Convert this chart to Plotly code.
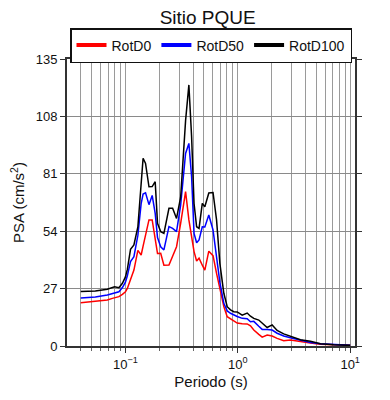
import plotly.graph_objects as go

periods = [0.04, 0.054, 0.069, 0.0765, 0.080, 0.0875, 0.094, 0.1, 0.104, 0.111, 0.119, 0.129,
           0.138, 0.1436, 0.151, 0.162, 0.173, 0.184, 0.193, 0.206, 0.220, 0.244, 0.263, 0.285,
           0.310, 0.343, 0.367, 0.388, 0.408, 0.430, 0.452, 0.483, 0.509, 0.552, 0.602, 0.647,
           0.692, 0.751, 0.805, 0.861, 0.921, 0.988, 1.094, 1.212, 1.297, 1.388, 1.537, 1.648,
           1.825, 2.021, 2.239, 2.562, 2.94, 3.61, 4.43, 5.43, 7.13, 9.38, 10.0]

rotd100 = [25.6, 25.9, 26.7, 27.3, 27.9, 27.4, 29.5, 32.5, 36.0, 45.5, 47.5, 56.0,
           78.0, 88.3, 85.9, 74.9, 75.0, 77.3, 57.7, 53.8, 53.0, 64.8, 64.8, 60.0,
           70.0, 106.0, 122.8, 98.5, 67.0, 56.1, 55.3, 67.1, 65.5, 72.0, 72.2, 59.3,
           39.0, 24.8, 18.5, 17.0, 16.1, 16.0, 14.5, 15.5, 14.0, 13.0, 12.2, 10.8,
           8.7, 9.9, 7.3, 5.7, 4.5, 2.9, 2.2, 1.1, 0.6, 0.3, 0.3]

rotd50 = [22.6, 23.0, 24.0, 24.5, 24.8, 25.5, 27.5, 30.0, 33.0, 39.7, 42.0, 52.0,
          67.0, 71.5, 72.1, 66.5, 70.8, 62.4, 51.0, 46.7, 45.2, 56.2, 55.3, 53.8,
          66.3, 90.6, 95.3, 79.6, 53.0, 48.6, 49.9, 56.1, 56.0, 61.6, 54.6, 42.0,
          30.0, 20.1, 16.5, 15.4, 14.5, 13.9, 13.0, 12.8, 11.4, 11.6, 9.3, 7.8,
          7.8, 7.5, 6.0, 4.7, 3.9, 2.7, 1.7, 1.1, 0.6, 0.3, 0.3]

rotd0 = [20.4, 20.9, 21.6, 22.4, 22.6, 23.2, 24.3, 25.5, 27.1, 31.5, 35.7, 45.0,
         42.8, 47.0, 52.2, 59.3, 59.3, 51.4, 43.5, 43.6, 38.0, 38.1, 42.0, 46.7,
         57.7, 72.6, 59.3, 51.0, 44.4, 40.0, 41.3, 38.0, 35.7, 44.6, 42.5, 34.2,
         26.5, 18.5, 13.8, 12.8, 11.5, 10.8, 10.5, 10.4, 9.5, 7.5, 5.5, 4.2,
         5.2, 4.7, 3.6, 2.5, 2.8, 2.0, 1.4, 0.8, 0.5, 0.3, 0.3]

series_names = ["RotD0", "RotD50", "RotD100"]
series_colors = ["#ff0000", "#0000ff", "#000000"]
series_values = [rotd0, rotd50, rotd100]

y_ticks = [0, 27, 54, 81, 108, 135]
x_ticks = [0.1, 1, 10]
x_ticklabels = ["10<sup>\u22121</sup>", "10<sup>0</sup>", "10<sup>1</sup>"]
x_minor = [0.03, 0.04, 0.05, 0.06, 0.07, 0.08, 0.09,
           0.2, 0.3, 0.4, 0.5, 0.6, 0.7, 0.8, 0.9,
           2, 3, 4, 5, 6, 7, 8, 9]

fig = go.Figure()
for name, color, vals in zip(series_names, series_colors, series_values):
    fig.add_trace(go.Scatter(x=periods, y=vals, mode="lines", name=name,
                             line=dict(color=color, width=1.5), showlegend=False))
for name, color in zip(series_names, series_colors):
    fig.add_trace(go.Scatter(x=[None], y=[None], mode="lines", name=name,
                             line=dict(color=color, width=4), showlegend=True))

font_family = "Liberation Sans, Arial, sans-serif"
fig.update_layout(
    width=390, height=400,
    margin=dict(l=59, r=43, t=51, b=62, autoexpand=False),
    paper_bgcolor="white", plot_bgcolor="white",
    font=dict(family=font_family, color="#111"),
    title=dict(text="Sitio PQUE", x=0.512, xanchor="center", y=0.977, yanchor="middle",
               font=dict(size=19, color="#111")),
    legend=dict(orientation="h", x=0.5, xanchor="center", y=1.108, yanchor="top",
                bordercolor="#111", borderwidth=1.5, bgcolor="white",
                font=dict(size=14, color="#111"),
                tracegroupgap=0, itemwidth=30),
    xaxis=dict(type="log", range=[-1.52, 1.043], automargin=False,
               tickvals=x_ticks, ticktext=x_ticklabels,
               showgrid=True, gridcolor="#9a9a9a", gridwidth=1,
               ticks="outside", ticklen=5, tickcolor="#333", tickwidth=1,
               showline=True, linecolor="#333", linewidth=2, mirror="allticks",
               tickfont=dict(size=13, color="#111"),
               minor=dict(tickvals=x_minor, showgrid=True, gridcolor="#9a9a9a", gridwidth=1,
                          ticks="outside", ticklen=3, tickcolor="#666"),
               title=dict(text="Periodo (s)", font=dict(size=15, color="#111"), standoff=6),
               zeroline=False),
    yaxis=dict(range=[0, 135], tickvals=y_ticks, automargin=False,
               showgrid=True, gridcolor="#8a8a8a", gridwidth=1,
               ticks="outside", ticklen=5, tickcolor="#333", tickwidth=1,
               showline=True, linecolor="#333", linewidth=2, mirror="allticks",
               tickfont=dict(size=13, color="#111"),
               title=dict(text="PSA (cm/s<sup>2</sup>)", font=dict(size=15, color="#111"), standoff=8),
               zeroline=False),
)

fig.write_html("out.html")
